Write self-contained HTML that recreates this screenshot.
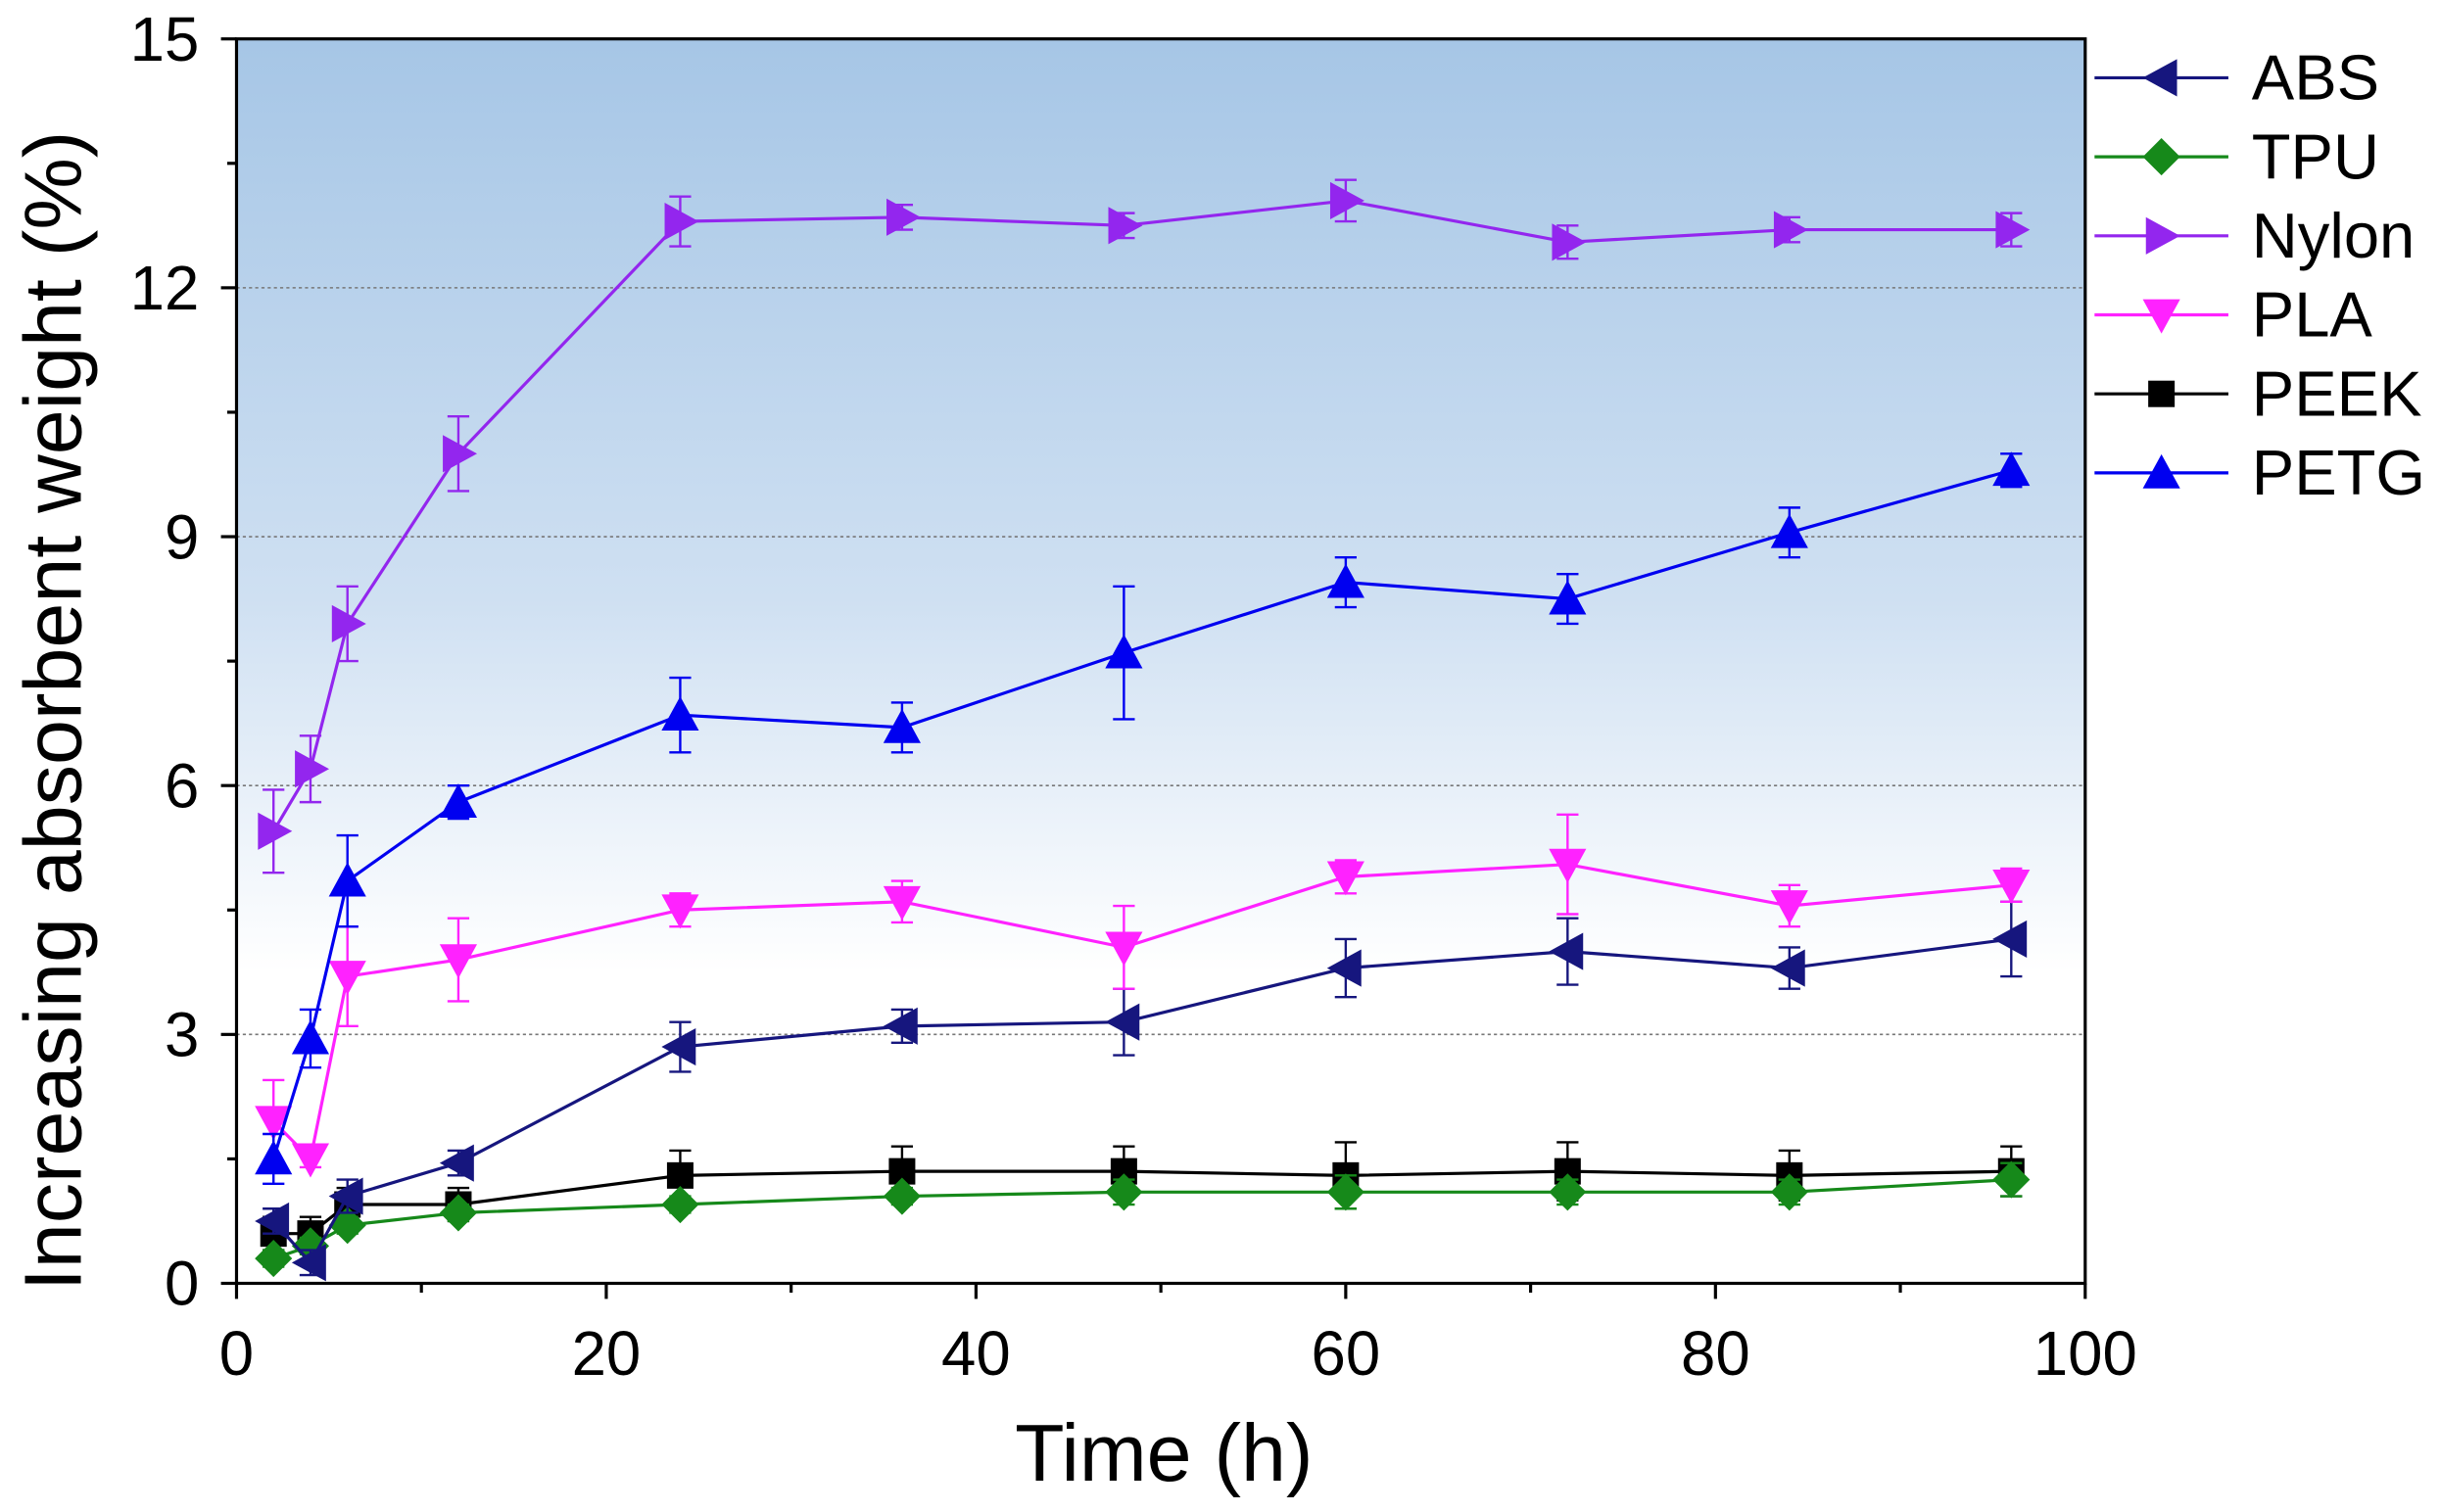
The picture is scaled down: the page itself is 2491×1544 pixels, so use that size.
<!DOCTYPE html>
<html><head><meta charset="utf-8"><style>
html,body{margin:0;padding:0;background:#fff;}
svg{display:block;}
text{font-family:"Liberation Sans",Arial,sans-serif;}
</style></head><body>
<svg id="s" width="2491" height="1544" viewBox="0 0 1568 972" preserveAspectRatio="none" xmlns="http://www.w3.org/2000/svg">
<defs>
<linearGradient id="bg" x1="0" y1="0" x2="0" y2="1">
<stop offset="0" stop-color="#a6c6e6"/>
<stop offset="0.45" stop-color="#cfe0f2"/>
<stop offset="0.75" stop-color="#ffffff"/>
<stop offset="1" stop-color="#ffffff"/>
</linearGradient>
</defs>
<rect x="152" y="25" width="1188" height="800" fill="url(#bg)"/>
<g id="g"></g>
<rect x="152" y="25" width="1188" height="800" fill="none" stroke="#000" stroke-width="2"/>
<text transform="translate(52,457) rotate(-90)" font-size="52" text-anchor="middle">Increasing absorbent weight (%)</text>
<text x="748" y="952" font-size="52" text-anchor="middle">Time (h)</text>
</svg>
<script>
const g=document.getElementById('g');let h='';
const X=x=>152+x*11.88, Y=y=>825-y*53.333;
[3,6,9,12].forEach(v=>h+=`<line x1="152" x2="1340" y1="${Y(v)}" y2="${Y(v)}" stroke="#777" stroke-width="1" stroke-dasharray="2,2"/>`);
for(let v=0;v<=15;v+=1.5){const maj=(v%3===0);h+=`<line x1="${152-(maj?10:6)}" x2="152" y1="${Y(v)}" y2="${Y(v)}" stroke="#000" stroke-width="2"/>`;
if(maj)h+=`<text x="128" y="${Y(v)+14}" font-size="40" text-anchor="end">${v}</text>`;}
for(let v=0;v<=100;v+=10){const maj=(v%20===0);h+=`<line x1="${X(v)}" x2="${X(v)}" y1="825" y2="${825+(maj?10:6)}" stroke="#000" stroke-width="2"/>`;
if(maj)h+=`<text x="${X(v)}" y="884" font-size="40" text-anchor="middle">${v}</text>`;}
const xs=[2,4,6,12,24,36,48,60,72,84,96];
function mk(t,x,y,c){
if(t=='sq')return `<rect x="${x-8.5}" y="${y-8.5}" width="17" height="17" fill="${c}"/>`;
if(t=='di')return `<polygon points="${x},${y-12} ${x+12},${y} ${x},${y+12} ${x-12},${y}" fill="${c}"/>`;
if(t=='up')return `<polygon points="${x},${y-12} ${x+12},${y+10} ${x-12},${y+10}" fill="${c}"/>`;
if(t=='dn')return `<polygon points="${x},${y+12} ${x+12},${y-10} ${x-12},${y-10}" fill="${c}"/>`;
if(t=='lt')return `<polygon points="${x-12},${y} ${x+10},${y-12} ${x+10},${y+12}" fill="${c}"/>`;
if(t=='rt')return `<polygon points="${x+12},${y} ${x-10},${y-12} ${x-10},${y+12}" fill="${c}"/>`;}
const S=[
['PEEK','sq','#000',[0.6,0.6,0.95,0.95,1.3,1.35,1.35,1.3,1.35,1.3,1.35],[0.2,0.2,0.2,0.2,0.3,0.3,0.3,0.4,0.35,0.3,0.3]],
['TPU','di','#16891a',[0.3,0.45,0.7,0.85,0.95,1.05,1.1,1.1,1.1,1.1,1.25],[0.1,0.1,0.1,0.1,0.1,0.1,0.15,0.2,0.15,0.15,0.2]],
['ABS','lt','#16167e',[0.75,0.25,1.05,1.45,2.85,3.1,3.15,3.8,4.0,3.8,4.15],[0.15,0.15,0.2,0.15,0.3,0.2,0.4,0.35,0.4,0.25,0.45]],
['PLA','dn','#ff22ff',[1.95,1.5,3.7,3.9,4.5,4.6,4.05,4.9,5.05,4.55,4.8],[0.5,0.1,0.6,0.5,0.2,0.25,0.5,0.2,0.6,0.25,0.2]],
['PETG','up','#0000f0',[1.5,2.95,4.85,5.8,6.85,6.7,7.6,8.45,8.25,9.05,9.8],[0.3,0.35,0.55,0.2,0.45,0.3,0.8,0.3,0.3,0.3,0.2]],
['Nylon','rt','#9326ee',[5.45,6.2,7.95,10,12.8,12.85,12.75,13.05,12.55,12.7,12.7],[0.5,0.4,0.45,0.45,0.3,0.15,0.15,0.25,0.2,0.15,0.2]]];
S.forEach(([n,t,c,ys,es])=>{
let p=xs.map((x,i)=>X(x)+','+Y(ys[i])).join(' ');
h+=`<polyline points="${p}" fill="none" stroke="${c}" stroke-width="2"/>`;
xs.forEach((x,i)=>{const a=X(x),b=Y(ys[i]),e=es[i]*53.333;
h+=`<line x1="${a}" x2="${a}" y1="${b-e}" y2="${b+e}" stroke="${c}" stroke-width="1.5"/><line x1="${a-7}" x2="${a+7}" y1="${b-e}" y2="${b-e}" stroke="${c}" stroke-width="1.5"/><line x1="${a-7}" x2="${a+7}" y1="${b+e}" y2="${b+e}" stroke="${c}" stroke-width="1.5"/>`;
h+=mk(t,a,b,c);});});
const L=[['ABS','lt','#16167e'],['TPU','di','#16891a'],['Nylon','rt','#9326ee'],['PLA','dn','#ff22ff'],['PEEK','sq','#000'],['PETG','up','#0000f0']];
L.forEach(([n,t,c],i)=>{const y=50+i*50.8;
h+=`<line x1="1346" x2="1432" y1="${y}" y2="${y}" stroke="${c}" stroke-width="2"/>`+mk(t,1389,y,c)+`<text x="1447" y="${y+14}" font-size="41">${n}</text>`;});
g.innerHTML=h;
</script>
</body></html>
